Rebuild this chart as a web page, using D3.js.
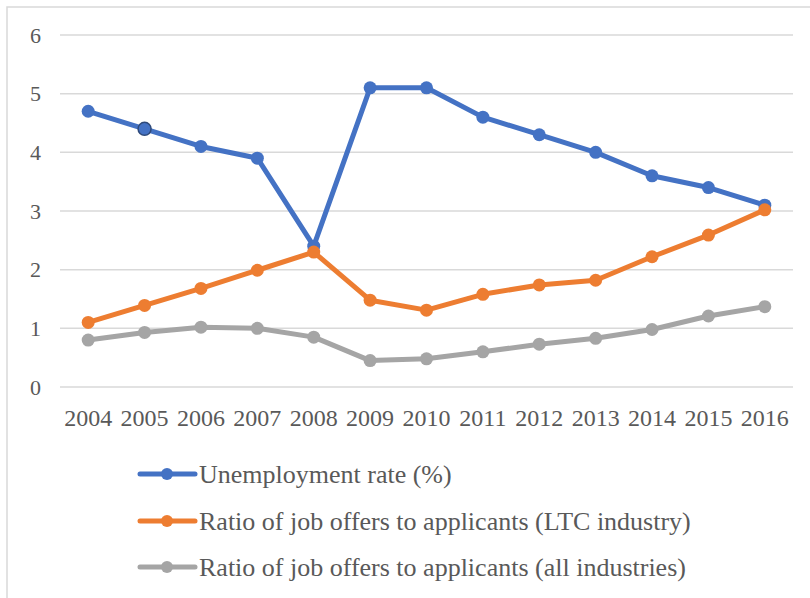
<!DOCTYPE html>
<html>
<head>
<meta charset="utf-8">
<script src="https://cdn.jsdelivr.net/npm/d3@7"></script>
<style>
  html, body { margin: 0; padding: 0; background: #fff; }
  svg { display: block; }
  text { font-family: "Liberation Serif", "Times New Roman", serif; fill: #595959; }
</style>
</head>
<body>
<svg id="chart" width="810" height="598"></svg>
<script>
// Years on the category axis
const years = ["2004","2005","2006","2007","2008","2009","2010","2011","2012","2013","2014","2015","2016"];

// Unemployment rate (%)
const unemployment = [4.7, 4.4, 4.1, 3.9, 2.4, 5.1, 5.1, 4.6, 4.3, 4.0, 3.6, 3.4, 3.1];
// Ratio of job offers to applicants, long-term care industry
const ratioLTC = [1.10, 1.39, 1.68, 1.99, 2.30, 1.48, 1.31, 1.58, 1.74, 1.82, 2.22, 2.59, 3.02];
// Ratio of job offers to applicants, all industries
const ratioAll = [0.80, 0.93, 1.02, 1.00, 0.85, 0.45, 0.48, 0.60, 0.73, 0.83, 0.98, 1.21, 1.37];

const yTicks = [0, 1, 2, 3, 4, 5, 6];

const seriesNames = [
  "Unemployment rate (%)",
  "Ratio of job offers to applicants (LTC industry)",
  "Ratio of job offers to applicants (all industries)"
];
const seriesColors = ["#4472C4", "#ED7D31", "#A5A5A5"];

const series = [unemployment, ratioLTC, ratioAll].map((values, i) => ({
  name: seriesNames[i],
  color: seriesColors[i],
  values
}));

const svg = d3.select("#chart");

// chart frame
svg.append("rect")
  .attr("x", 7).attr("y", 7)
  .attr("width", 820).attr("height", 620)
  .attr("fill", "#fff")
  .attr("stroke", "#D9D9D9")
  .attr("stroke-width", 1.5);

const x = d3.scaleBand().domain(years).range([60, 793]);
const y = d3.scaleLinear().domain([0, 6]).range([387, 35]);

// horizontal gridlines
svg.append("g")
  .selectAll("line")
  .data(yTicks)
  .join("line")
  .attr("x1", x.range()[0])
  .attr("x2", x.range()[1])
  .attr("y1", d => y(d))
  .attr("y2", d => y(d))
  .attr("stroke", "#D9D9D9")
  .attr("stroke-width", 1.5);

// value axis labels
const yAxis = d3.axisLeft(y).tickValues(yTicks).tickSize(0).tickPadding(0).tickFormat(d3.format("d"));
svg.append("g")
  .attr("transform", "translate(41,0)")
  .call(yAxis)
  .call(g => g.select(".domain").remove())
  .call(g => g.selectAll("text")
    .attr("font-size", 22)
    .attr("font-family", "Liberation Serif, serif")
    .attr("fill", "#595959"));

// category axis labels
const xAxis = d3.axisBottom(x).tickSize(0).tickPadding(0);
svg.append("g")
  .attr("transform", "translate(0,409)")
  .call(xAxis)
  .call(g => g.select(".domain").remove())
  .call(g => g.selectAll("text")
    .attr("font-size", 24)
    .attr("font-family", "Liberation Serif, serif")
    .attr("fill", "#595959"));

const line = d3.line()
  .x((d, i) => x(years[i]) + x.bandwidth() / 2)
  .y(d => y(d));

// series lines and markers, drawn in series order
series.forEach((s, si) => {
  const g = svg.append("g");
  g.append("path")
    .datum(s.values)
    .attr("d", line)
    .attr("fill", "none")
    .attr("stroke", s.color)
    .attr("stroke-width", 5)
    .attr("stroke-linejoin", "round")
    .attr("stroke-linecap", "round");
  g.selectAll("circle")
    .data(s.values)
    .join("circle")
    .attr("cx", (d, i) => x(years[i]) + x.bandwidth() / 2)
    .attr("cy", d => y(d))
    .attr("r", 6.5)
    .attr("fill", s.color)
    // the selected 2005 unemployment point carries a dark outline
    .attr("stroke", (d, i) => (si === 0 && i === 1) ? "#2F4A7A" : "none")
    .attr("stroke-width", 1.5);
});

// legend
const legend = svg.append("g");
const rowY = [474, 521, 567];
series.forEach((s, i) => {
  const row = legend.append("g").attr("transform", `translate(0,${rowY[i]})`);
  row.append("line")
    .attr("x1", 140).attr("x2", 195)
    .attr("y1", 0).attr("y2", 0)
    .attr("stroke", s.color)
    .attr("stroke-width", 5)
    .attr("stroke-linecap", "round");
  row.append("circle")
    .attr("cx", 167).attr("cy", 0).attr("r", 6)
    .attr("fill", s.color);
  row.append("text")
    .attr("x", 199).attr("y", 0)
    .attr("dy", "0.33em")
    .attr("font-size", 26)
    .text(s.name);
});
</script>
</body>
</html>
